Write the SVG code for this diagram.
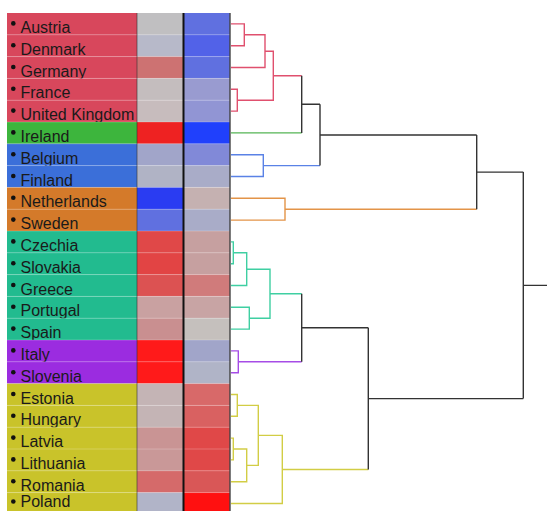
<svg xmlns="http://www.w3.org/2000/svg" width="547" height="511" viewBox="0 0 547 511">
<style>
.lbl{font-family:"Liberation Sans",Arial,sans-serif;font-size:16px;fill:#1a1a1a}
.sep{stroke:#ffffff;stroke-opacity:0.22;stroke-width:1}
.d{fill:none;stroke-width:1.4}
.k{stroke:#333333}
.r{stroke:#e0506e}
.g{stroke:#55b455}
.b{stroke:#5a82e6}
.o{stroke:#e39448}
.t{stroke:#3fcfa2}
.p{stroke:#a64de6}
.y{stroke:#d2cd45}
</style>
<rect width="547" height="511" fill="#ffffff"/>
<g id="rows">
<g id="row-austria"><rect x="7" y="13" width="130" height="21.8" fill="#d8475c"/><rect x="137" y="13" width="46" height="21.8" fill="#c0bfc1"/><rect x="184" y="13" width="46" height="21.8" fill="#6070e0"/><circle cx="13.3" cy="23.4" r="2.3" fill="#111"/><text class="lbl" x="20.5" y="33">Austria</text></g>
<g id="row-denmark"><rect x="7" y="34.8" width="130" height="21.8" fill="#d8475c"/><rect x="137" y="34.8" width="46" height="21.8" fill="#b7b9c9"/><rect x="184" y="34.8" width="46" height="21.8" fill="#5262e8"/><circle cx="13.3" cy="45.2" r="2.3" fill="#111"/><text class="lbl" x="20.5" y="54.8">Denmark</text></g>
<g id="row-germany"><rect x="7" y="56.6" width="130" height="21.8" fill="#d8475c"/><rect x="137" y="56.6" width="46" height="21.8" fill="#cd7272"/><rect x="184" y="56.6" width="46" height="21.8" fill="#6070e0"/><circle cx="13.3" cy="67" r="2.3" fill="#111"/><text class="lbl" x="20.5" y="76.6">Germany</text></g>
<g id="row-france"><rect x="7" y="78.4" width="130" height="21.8" fill="#d8475c"/><rect x="137" y="78.4" width="46" height="21.8" fill="#c4bdbe"/><rect x="184" y="78.4" width="46" height="21.8" fill="#999bd0"/><circle cx="13.3" cy="88.8" r="2.3" fill="#111"/><text class="lbl" x="20.5" y="98.4">France</text></g>
<g id="row-uk"><rect x="7" y="100.2" width="130" height="21.8" fill="#d8475c"/><rect x="137" y="100.2" width="46" height="21.8" fill="#c7bcbd"/><rect x="184" y="100.2" width="46" height="21.8" fill="#9195d4"/><circle cx="13.3" cy="110.6" r="2.3" fill="#111"/><text class="lbl" x="20.5" y="120.2">United Kingdom</text></g>
<g id="row-ireland"><rect x="7" y="122" width="130" height="21.8" fill="#3db53d"/><rect x="137" y="122" width="46" height="21.8" fill="#ee2222"/><rect x="184" y="122" width="46" height="21.8" fill="#2040fc"/><circle cx="13.3" cy="132.4" r="2.3" fill="#111"/><text class="lbl" x="20.5" y="142">Ireland</text></g>
<g id="row-belgium"><rect x="7" y="143.8" width="130" height="21.8" fill="#3b6fd9"/><rect x="137" y="143.8" width="46" height="21.8" fill="#a1a5c9"/><rect x="184" y="143.8" width="46" height="21.8" fill="#8189d8"/><circle cx="13.3" cy="154.2" r="2.3" fill="#111"/><text class="lbl" x="20.5" y="163.8">Belgium</text></g>
<g id="row-finland"><rect x="7" y="165.6" width="130" height="21.8" fill="#3b6fd9"/><rect x="137" y="165.6" width="46" height="21.8" fill="#b0b3c5"/><rect x="184" y="165.6" width="46" height="21.8" fill="#a9acc8"/><circle cx="13.3" cy="176" r="2.3" fill="#111"/><text class="lbl" x="20.5" y="185.6">Finland</text></g>
<g id="row-netherlands"><rect x="7" y="187.4" width="130" height="21.8" fill="#d47a2a"/><rect x="137" y="187.4" width="46" height="21.8" fill="#2a3cf2"/><rect x="184" y="187.4" width="46" height="21.8" fill="#c5b1b1"/><circle cx="13.3" cy="197.8" r="2.3" fill="#111"/><text class="lbl" x="20.5" y="207.4">Netherlands</text></g>
<g id="row-sweden"><rect x="7" y="209.2" width="130" height="21.8" fill="#d47a2a"/><rect x="137" y="209.2" width="46" height="21.8" fill="#6070e0"/><rect x="184" y="209.2" width="46" height="21.8" fill="#a9acc8"/><circle cx="13.3" cy="219.6" r="2.3" fill="#111"/><text class="lbl" x="20.5" y="229.2">Sweden</text></g>
<g id="row-czechia"><rect x="7" y="231" width="130" height="21.8" fill="#22bb8f"/><rect x="137" y="231" width="46" height="21.8" fill="#e04848"/><rect x="184" y="231" width="46" height="21.8" fill="#c6a0a0"/><circle cx="13.3" cy="241.4" r="2.3" fill="#111"/><text class="lbl" x="20.5" y="251">Czechia</text></g>
<g id="row-slovakia"><rect x="7" y="252.8" width="130" height="21.8" fill="#22bb8f"/><rect x="137" y="252.8" width="46" height="21.8" fill="#e24444"/><rect x="184" y="252.8" width="46" height="21.8" fill="#c6a0a0"/><circle cx="13.3" cy="263.2" r="2.3" fill="#111"/><text class="lbl" x="20.5" y="272.8">Slovakia</text></g>
<g id="row-greece"><rect x="7" y="274.6" width="130" height="21.8" fill="#22bb8f"/><rect x="137" y="274.6" width="46" height="21.8" fill="#dc5252"/><rect x="184" y="274.6" width="46" height="21.8" fill="#d07b7b"/><circle cx="13.3" cy="285" r="2.3" fill="#111"/><text class="lbl" x="20.5" y="294.6">Greece</text></g>
<g id="row-portugal"><rect x="7" y="296.4" width="130" height="21.8" fill="#22bb8f"/><rect x="137" y="296.4" width="46" height="21.8" fill="#c9a1a1"/><rect x="184" y="296.4" width="46" height="21.8" fill="#c8a4a4"/><circle cx="13.3" cy="306.8" r="2.3" fill="#111"/><text class="lbl" x="20.5" y="316.4">Portugal</text></g>
<g id="row-spain"><rect x="7" y="318.2" width="130" height="21.8" fill="#22bb8f"/><rect x="137" y="318.2" width="46" height="21.8" fill="#c98f90"/><rect x="184" y="318.2" width="46" height="21.8" fill="#c5c0bd"/><circle cx="13.3" cy="328.6" r="2.3" fill="#111"/><text class="lbl" x="20.5" y="338.2">Spain</text></g>
<g id="row-italy"><rect x="7" y="340" width="130" height="21.8" fill="#9b2ce0"/><rect x="137" y="340" width="46" height="21.8" fill="#ff1a1a"/><rect x="184" y="340" width="46" height="21.8" fill="#a1a5c9"/><circle cx="13.3" cy="350.4" r="2.3" fill="#111"/><text class="lbl" x="20.5" y="360">Italy</text></g>
<g id="row-slovenia"><rect x="7" y="361.8" width="130" height="21.8" fill="#9b2ce0"/><rect x="137" y="361.8" width="46" height="21.8" fill="#ff1a1a"/><rect x="184" y="361.8" width="46" height="21.8" fill="#b0b4c7"/><circle cx="13.3" cy="372.2" r="2.3" fill="#111"/><text class="lbl" x="20.5" y="381.8">Slovenia</text></g>
<g id="row-estonia"><rect x="7" y="383.6" width="130" height="21.8" fill="#c9c32a"/><rect x="137" y="383.6" width="46" height="21.8" fill="#c4b4b5"/><rect x="184" y="383.6" width="46" height="21.8" fill="#d86969"/><circle cx="13.3" cy="394" r="2.3" fill="#111"/><text class="lbl" x="20.5" y="403.6">Estonia</text></g>
<g id="row-hungary"><rect x="7" y="405.4" width="130" height="21.8" fill="#c9c32a"/><rect x="137" y="405.4" width="46" height="21.8" fill="#c4b4b5"/><rect x="184" y="405.4" width="46" height="21.8" fill="#d96161"/><circle cx="13.3" cy="415.8" r="2.3" fill="#111"/><text class="lbl" x="20.5" y="425.4">Hungary</text></g>
<g id="row-latvia"><rect x="7" y="427.2" width="130" height="21.8" fill="#c9c32a"/><rect x="137" y="427.2" width="46" height="21.8" fill="#c99494"/><rect x="184" y="427.2" width="46" height="21.8" fill="#e04848"/><circle cx="13.3" cy="437.6" r="2.3" fill="#111"/><text class="lbl" x="20.5" y="447.2">Latvia</text></g>
<g id="row-lithuania"><rect x="7" y="449" width="130" height="21.8" fill="#c9c32a"/><rect x="137" y="449" width="46" height="21.8" fill="#c99898"/><rect x="184" y="449" width="46" height="21.8" fill="#e04848"/><circle cx="13.3" cy="459.4" r="2.3" fill="#111"/><text class="lbl" x="20.5" y="469">Lithuania</text></g>
<g id="row-romania"><rect x="7" y="470.8" width="130" height="21.8" fill="#c9c32a"/><rect x="137" y="470.8" width="46" height="21.8" fill="#d56a6a"/><rect x="184" y="470.8" width="46" height="21.8" fill="#d95757"/><circle cx="13.3" cy="481.2" r="2.3" fill="#111"/><text class="lbl" x="20.5" y="490.8">Romania</text></g>
<g id="row-poland"><rect x="7" y="492.6" width="130" height="21.8" fill="#c9c32a"/><rect x="137" y="492.6" width="46" height="21.8" fill="#b1b4c8"/><rect x="184" y="492.6" width="46" height="21.8" fill="#ff1010"/><circle cx="13.3" cy="501.5" r="2.3" fill="#111"/><text class="lbl" x="20.5" y="507">Poland</text></g>
</g>
<g id="grid">
<path class="sep" d="M7 34.8H230M7 56.6H230M7 78.4H230M7 100.2H230M7 122H230M7 143.8H230M7 165.6H230M7 187.4H230M7 209.2H230M7 231H230M7 252.8H230M7 274.6H230M7 296.4H230M7 318.2H230M7 340H230M7 361.8H230M7 383.6H230M7 405.4H230M7 427.2H230M7 449H230M7 470.8H230M7 492.6H230"/>
<line x1="137" y1="13" x2="137" y2="511" stroke="#333" stroke-opacity="0.6" stroke-width="1"/>
<line x1="183.5" y1="13" x2="183.5" y2="511" stroke="#111" stroke-width="2"/>
<line x1="230" y1="13" x2="230" y2="511" stroke="#444" stroke-width="1.4"/>
</g>
<g id="connectors">
<path class="d r" d="M231 23.9H244.3V45.7H231M244.3 34.8H265V67.5H231M231 89.3H237.3V111.1H231M265 51.2H273.3V100.2H237.3M273.3 75.7H301.7"/>
<path class="d g" d="M231 132.9H301.7"/>
<path class="d b" d="M231 154.7H263.3V176.5H231M263.3 165.6H320"/>
<path class="d o" d="M231 198.3H285V220.1H231M285 209.2H476.7"/>
<path class="d t" d="M231 241.9H233.3V263.7H231M233.3 252.8H246.7V285.5H231M231 307.3H249.3V329.1H231M246.7 269.2H270V318.2H249.3M270 293.7H301.7"/>
<path class="d p" d="M231 350.9H238.3V372.7H231M238.3 361.8H301.7"/>
<path class="d y" d="M231 394.5H237.3V416.3H231M231 438.1H233.3V459.9H231M233.3 449H246.7V481.7H231M237.3 405.4H258.3V465.4H246.7M258.3 435.4H282.3V503.5H231M282.3 469.5H368.3"/>
<path class="d k" d="M301.7 75.7V132.9M301.7 104.3H320M320 104.3V165.6M320 135H476.7M476.7 135V209.2M476.7 172.1H523.3M301.7 293.7V361.8M301.7 327.8H368.3M368.3 327.8V469.5M368.3 398.6H523.3M523.3 172.1V398.6M523.3 285.4H547"/>
</g>
</svg>
